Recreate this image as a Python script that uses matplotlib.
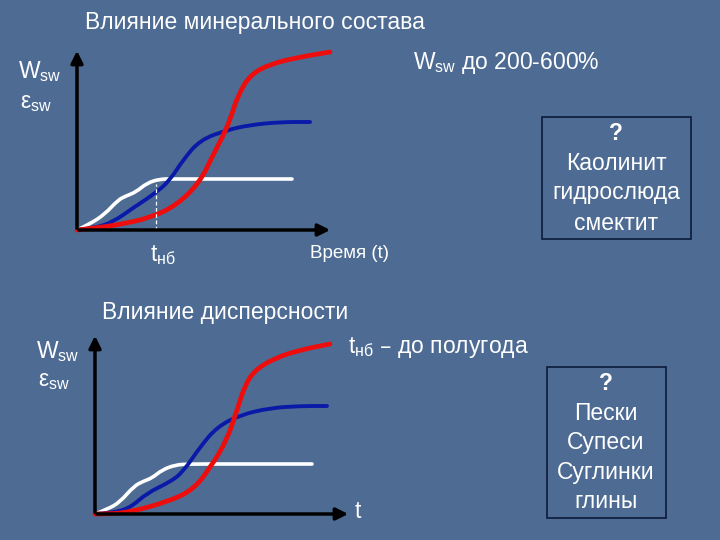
import matplotlib.pyplot as plt
from matplotlib.patches import Rectangle, PathPatch
from matplotlib.path import Path

plt.rcParams['font.family'] = ['Liberation Sans', 'DejaVu Sans']

# slide coordinates in pixels (x to the right, y downward)
# upper chart: influence of mineral composition
top_white_x = [77, 90, 105, 118, 126, 136, 147, 160, 172, 200, 292]
top_white_y = [230, 224, 214, 200, 196, 192, 183, 179, 179, 179, 179]
top_blue_x = [77, 95, 113, 133, 157, 170, 183, 200, 227, 250, 280, 310]
top_blue_y = [230, 228, 222, 208, 192, 180, 160, 140, 130, 125, 122, 122]
top_red_x = [77, 95, 117, 150, 177, 200, 213, 222, 230, 238, 250, 270, 300, 330]
top_red_y = [230, 228, 225, 218, 205, 182, 155, 138, 120, 95, 75, 64, 57, 52]

# lower chart: influence of dispersity
bot_white_x = [95, 108, 120, 134, 144, 152, 162, 175, 188, 230, 312]
bot_white_y = [514, 509, 502, 486, 481, 478, 470, 465, 464, 464, 464]
bot_blue_x = [95, 112, 130, 147, 170, 183, 200, 217, 240, 270, 300, 327]
bot_blue_y = [514, 513, 508, 493, 482, 472, 447, 427, 415, 408, 406, 406]
bot_red_x = [95, 110, 130, 167, 193, 210, 227, 237, 245, 255, 275, 300, 330]
bot_red_y = [514, 514, 512, 502, 490, 468, 440, 410, 385, 370, 358, 350, 344]

BG = '#4e6c93'
fig = plt.figure(figsize=(7.2, 5.4), dpi=100)
fig.patch.set_facecolor(BG)
ax = fig.add_axes([0, 0, 1, 1])
ax.set_xlim(0, 720)
ax.set_ylim(540, 0)
ax.axis('off')


def smooth_line(xs, ys, color, lw):
    # quadratic B-spline path: the read points act as control points
    verts = [(xs[0], ys[0])]
    codes = [Path.MOVETO]
    for i in range(1, len(xs) - 1):
        mid = ((xs[i] + xs[i + 1]) / 2, (ys[i] + ys[i + 1]) / 2)
        verts += [(xs[i], ys[i]), mid]
        codes += [Path.CURVE3, Path.CURVE3]
    verts.append((xs[-1], ys[-1]))
    codes.append(Path.LINETO)
    ax.add_patch(PathPatch(Path(verts, codes), fill=False, ec=color, lw=lw,
                           capstyle='round', joinstyle='round'))


def draw_axes(x0, y0, ytop, xright):
    ax.annotate('', xy=(x0, ytop), xytext=(x0, y0 + 1),
                arrowprops=dict(arrowstyle='-|>', color='black', lw=2.5,
                                mutation_scale=18))
    ax.annotate('', xy=(xright, y0), xytext=(x0 - 1, y0),
                arrowprops=dict(arrowstyle='-|>', color='black', lw=2.5,
                                mutation_scale=18))


def curves(wx, wy, bx, by, rx, ry):
    smooth_line(wx, wy, 'white', 2.6)
    smooth_line(bx, by, '#0a1aa8', 2.8)
    smooth_line(rx, ry, '#ee0d0d', 3.4)


# upper chart
draw_axes(77, 230, 48, 333)
ax.plot([156, 156], [230, 184], color='white', lw=0.9, ls=(0, (3, 2)))
curves(top_white_x, top_white_y, top_blue_x, top_blue_y, top_red_x, top_red_y)

# lower chart
draw_axes(95, 514, 333, 351)
curves(bot_white_x, bot_white_y, bot_blue_x, bot_blue_y, bot_red_x, bot_red_y)

tc = 'white'
fs = 16.5
ax.text(85, 22, 'Влияние минерального состава', color=tc, fontsize=fs, va='center')
ax.text(413, 63, r'W$_{\mathregular{sw}}$ до 200-600%', color=tc, fontsize=fs, va='center')
ax.text(18, 72, r'W$_{\mathregular{sw}}$', color=tc, fontsize=fs, va='center')
ax.text(20, 102, r'ε$_{\mathregular{sw}}$', color=tc, fontsize=fs, va='center')
ax.text(150, 255, r't$_{\mathregular{нб}}$', color=tc, fontsize=fs, va='center')
ax.text(310, 253, 'Время (t)', color=tc, fontsize=13.5, va='center')

ax.text(102, 313, 'Влияние дисперсности', color=tc, fontsize=fs, va='center')
ax.text(348, 347, r't$_{\mathregular{нб}}$ – до полугода', color=tc, fontsize=fs, va='center')
ax.text(36, 352, r'W$_{\mathregular{sw}}$', color=tc, fontsize=fs, va='center')
ax.text(38, 381, r'ε$_{\mathregular{sw}}$', color=tc, fontsize=fs, va='center')
ax.text(355, 512, 't', color=tc, fontsize=fs, va='center')

box1 = ['?', 'Каолинит', 'гидрослюда', 'смектит']
box2 = ['?', 'Пески', 'Супеси', 'Суглинки', 'глины']

ax.add_patch(Rectangle((542, 117), 149, 122, fill=False, ec='#0d1a3a', lw=1.2))
for i, s in enumerate(box1):
    ax.text(616, 133 + i * 30, s, color=tc, fontsize=fs, ha='center', va='center',
            fontweight='bold' if s == '?' else 'normal')

ax.add_patch(Rectangle((547, 367), 119, 151, fill=False, ec='#0d1a3a', lw=1.2))
for i, s in enumerate(box2):
    ax.text(606, 384 + i * 29.5, s, color=tc, fontsize=fs, ha='center', va='center',
            fontweight='bold' if s == '?' else 'normal')

fig.savefig('out.png', dpi=100, facecolor=BG)
